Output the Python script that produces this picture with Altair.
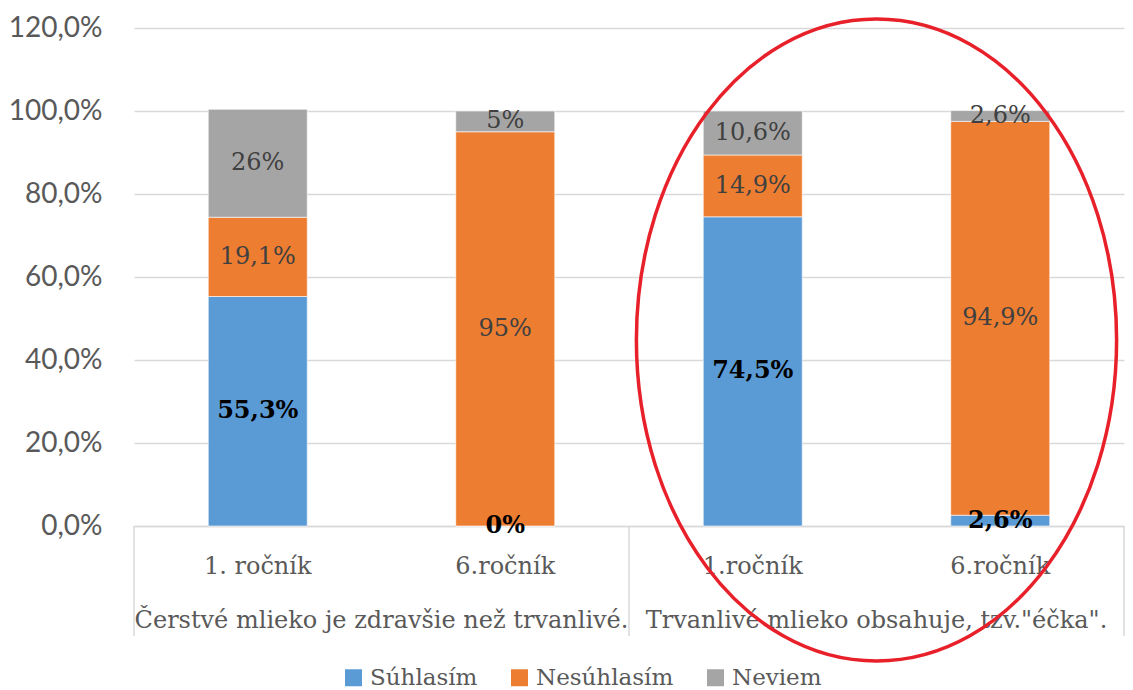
import altair as alt
import pandas as pd

groups = ["Čerstvé mlieko je zdravšie než trvanlivé.", "Trvanlivé mlieko obsahuje, tzv.\"éčka\"."]
bar_ids = ["A1", "A2", "B1", "B2"]
bar_group = [groups[0], groups[0], groups[1], groups[1]]
grade_labels = ["1. ročník", "6.ročník", "1.ročník", "6.ročník"]
responses = ["Súhlasím", "Nesúhlasím", "Neviem"]
colors = ["#5B9BD5", "#ED7D31", "#A5A5A5"]
suhlasim = [55.3, 0, 74.5, 2.6]
nesuhlasim = [19.1, 95, 14.9, 94.9]
neviem = [26, 5, 10.6, 2.6]

rows = []
for i, b in enumerate(bar_ids):
    for j, (resp, vals) in enumerate(zip(responses, [suhlasim, nesuhlasim, neviem])):
        rows.append({"bar": b, "group": bar_group[i], "response": resp, "order": j, "value": vals[i]})
df = pd.DataFrame(rows)
gdf = pd.DataFrame({"group": groups})

W, H = 990, 498
SERIF = "DejaVu Serif"
SANS = "Lato"
GREY_TXT = "#595959"

bar_scale = alt.Scale(type="band", domain=bar_ids, paddingInner=0.6, paddingOuter=0.3)
grp_scale = alt.Scale(type="band", domain=groups, paddingInner=0, paddingOuter=0)
y_scale = alt.Scale(domain=[0, 120], nice=False)

label_expr = " : ".join(f"datum.value == '{b}' ? '{g}'" for b, g in zip(bar_ids, grade_labels)) + " : ''"

base = alt.Chart(df)

bars = base.mark_bar(stroke="white", strokeWidth=0.6).encode(
    x=alt.X("bar:N", scale=bar_scale, title=None, sort=bar_ids,
            axis=alt.Axis(labelExpr=label_expr, ticks=False, domain=True, domainColor="#d9d9d9",
                          domainWidth=1.5, labelAngle=0, labelFont=SERIF, labelFontSize=24,
                          labelColor=GREY_TXT, labelPadding=28, grid=False)),
    y=alt.Y("value:Q", stack="zero", scale=y_scale, title=None,
            axis=alt.Axis(values=[0, 20, 40, 60, 80, 100, 120],
                          labelExpr="replace(format(datum.value, '.1f'), '.', ',') + '%'",
                          domain=False, ticks=False, grid=True, gridColor="#d9d9d9", gridWidth=1.5,
                          labelFont=SANS, labelFontSize=28, labelColor=GREY_TXT, labelPadding=32)),
    color=alt.Color("response:N", scale=alt.Scale(domain=responses, range=colors),
                    legend=alt.Legend(title=None, orient="none", direction="horizontal",
                                      legendX=208, legendY=638, symbolType="square", symbolSize=289,
                                      symbolStrokeWidth=0, labelFont=SERIF, labelFontSize=23,
                                      labelColor=GREY_TXT, columnPadding=30, labelOffset=5)),
    order=alt.Order("order:Q"),
)

stacked = base.transform_stack(
    stack="value", groupby=["bar"], as_=["v0", "v1"], sort=[alt.SortField("order", "ascending")]
).transform_calculate(
    mid="(datum.v0 + datum.v1) / 2",
    label="replace(format(datum.value, datum.value % 1 == 0 ? 'd' : '.1f'), '.', ',') + '%'",
)

txt_bold = stacked.transform_filter(alt.datum.response == responses[0]).mark_text(
    font=SERIF, fontSize=24, fontWeight="bold", color="#000000", baseline="middle"
).encode(x=alt.X("bar:N", scale=bar_scale, sort=bar_ids), y=alt.Y("mid:Q", scale=y_scale), text="label:N")

txt_norm = stacked.transform_filter(alt.datum.response != responses[0]).mark_text(
    font=SERIF, fontSize=24, color="#404040", baseline="middle"
).encode(x=alt.X("bar:N", scale=bar_scale, sort=bar_ids), y=alt.Y("mid:Q", scale=y_scale), text="label:N")

inner = alt.layer(bars, txt_norm, txt_bold)

gbase = alt.Chart(gdf)
rule_left = gbase.mark_rule(color="#d9d9d9", strokeWidth=1.5).encode(
    x=alt.X("group:N", scale=grp_scale, bandPosition=0, axis=None),
    y=alt.value(H), y2=alt.value(H + 110),
)
rule_right = gbase.transform_filter(alt.datum.group == groups[1]).mark_rule(color="#d9d9d9", strokeWidth=1.5).encode(
    x=alt.X("group:N", scale=grp_scale, bandPosition=1, axis=None),
    y=alt.value(H), y2=alt.value(H + 110),
)
glabels = gbase.mark_text(font=SERIF, fontSize=24, color=GREY_TXT, baseline="middle").encode(
    x=alt.X("group:N", scale=grp_scale, axis=None),
    y=alt.value(H + 95),
    text="group:N",
)

kx, ky, rx = 0.413, 0.552, 0.748
ell_path = (f"M 0 -1 C {kx} -1 {rx} -{ky} {rx} 0 C {rx} {ky} {kx} 1 0 1 "
            f"C -{kx} 1 -{rx} {ky} -{rx} 0 C -{rx} -{ky} -{kx} -1 0 -1 Z")
ellipse = gbase.transform_filter(alt.datum.group == groups[1]).mark_point(
    shape=ell_path, size=642 * 642, filled=False, stroke="#E8202A", strokeWidth=3.5, opacity=1
).encode(
    x=alt.X("group:N", scale=grp_scale, axis=None),
    y=alt.value(312),
)

chart = alt.layer(inner, rule_left, rule_right, glabels, ellipse).resolve_scale(x="independent").properties(
    width=W, height=H, padding={"top": 4, "left": 0, "right": 0, "bottom": 0}
).configure_view(stroke=None)

chart.save("out.html", embed_options={"renderer": "svg", "actions": False})
